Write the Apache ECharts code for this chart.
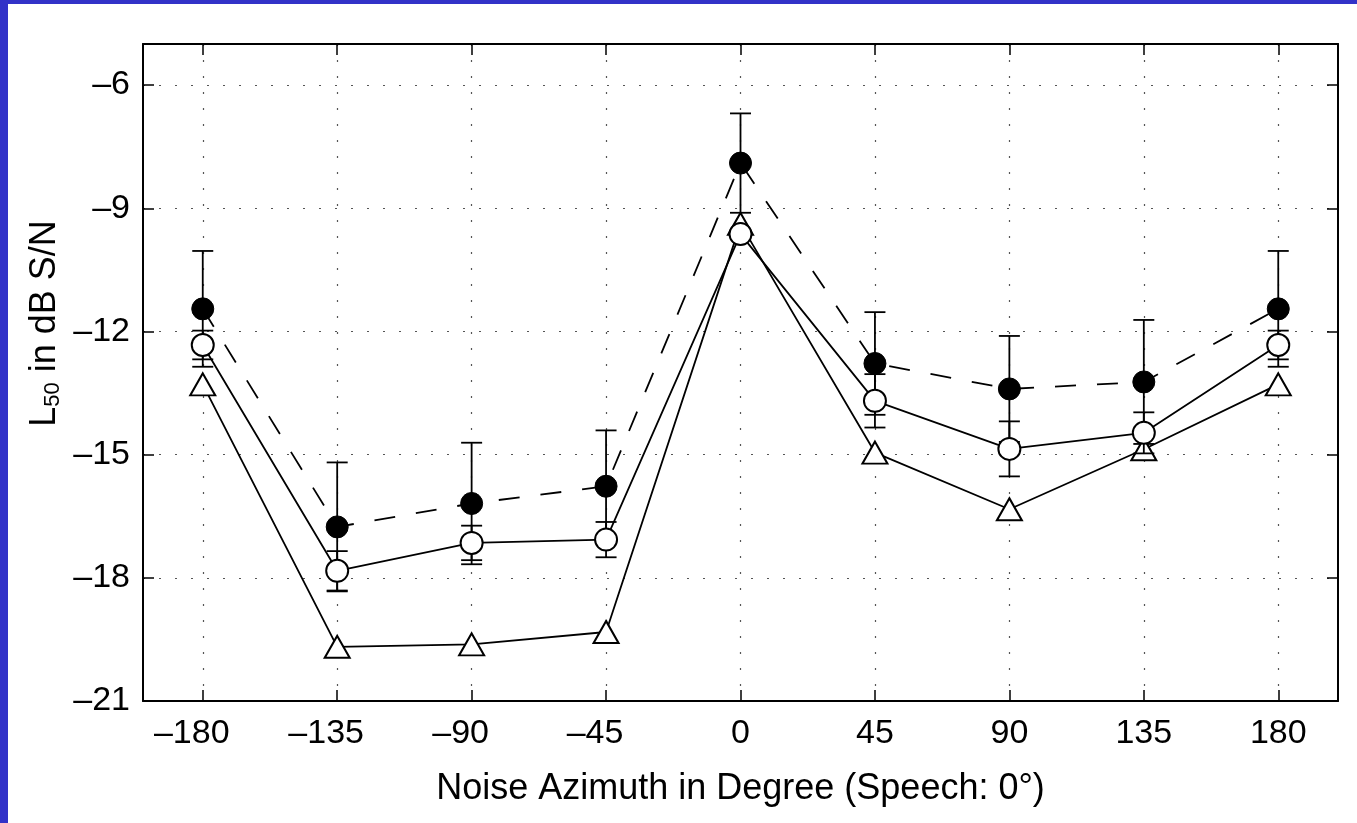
<!DOCTYPE html>
<html>
<head>
<meta charset="utf-8">
<script src="https://cdn.jsdelivr.net/npm/echarts@6/dist/echarts.min.js"></script>
<style>
html,body{margin:0;padding:0;background:#fff;}
#chart{width:1357px;height:823px;}
</style>
</head>
<body>
<div id="chart"></div>
<script>
// ---- data ----
const azimuth = [-180, -135, -90, -45, 0, 45, 90, 135, 180];
const filledMean = [-11.45, -16.76, -16.19, -15.77, -7.90, -12.78, -13.40, -13.23, -11.45];
const filledErr  = [1.41, 1.57, 1.48, 1.36, 1.21, 1.25, 1.29, 1.51, 1.41];
const openMean   = [-12.33, -17.83, -17.15, -17.07, -9.63, -13.69, -14.86, -14.47, -12.33];
const openErr    = [0.35, 0.48, 0.42, 0.43, 0, 0.65, 0.67, 0.50, 0.35];
const triMean    = [-13.29, -19.68, -19.62, -19.32, -9.38, -14.95, -16.33, -14.87, -13.29];
const xTicks = [-180, -135, -90, -45, 0, 45, 90, 135, 180];
const yTicks = [-21, -18, -15, -12, -9, -6];
const xLabel = 'Noise Azimuth in Degree (Speech: 0\u00B0)';
const yLabelRich = '{m|L}{s|50}{m| in dB S/N}';

const FONT = '"Liberation Sans", Arial, Helvetica, sans-serif';
const fmtY = v => (v < 0 ? '\u2013' + Math.abs(v) : String(v));
const fmtX = v => (v < 0 ? '{n|\u2013' + Math.abs(v) + '}' : '{p|' + v + '}');
const tickFont = {fontSize: 34, color: '#000', fontFamily: FONT};
const gridLine = {show: true, lineStyle: {color: '#555', width: 1.2, type: [2, 14]}};
const black = {color: '#000', width: 2};

function pairs(ys) { return azimuth.map((a, i) => [a, ys[i]]); }
function errData(m, e) { return azimuth.map((a, i) => [a, m[i], e[i]]); }

function errRender(params, api) {
  const x = api.value(0), m = api.value(1), e = api.value(2);
  if (!(e > 0)) return null;
  const t = api.coord([x, m + e]);
  const b = api.coord([x, m - e]);
  const hw = 10.5;
  const st = {stroke: '#000', lineWidth: 1.8};
  return {
    type: 'group',
    children: [
      {type: 'line', shape: {x1: t[0], y1: t[1], x2: b[0], y2: b[1]}, style: st},
      {type: 'line', shape: {x1: t[0] - hw, y1: t[1], x2: t[0] + hw, y2: t[1]}, style: st},
      {type: 'line', shape: {x1: b[0] - hw, y1: b[1], x2: b[0] + hw, y2: b[1]}, style: st}
    ]
  };
}

const chart = echarts.init(document.getElementById('chart'), null, {renderer: 'canvas'});
chart.setOption({
  backgroundColor: '#fff',
  animation: false,
  grid: {left: 143, right: 19, top: 44, bottom: 122, containLabel: false, outerBoundsMode: 'none'},
  xAxis: [{
    type: 'value', min: -200, max: 200, position: 'bottom',
    name: xLabel, nameLocation: 'middle', nameGap: 70,
    nameTextStyle: {fontSize: 36, color: '#000', fontFamily: FONT},
    axisLine: {show: true, onZero: false, lineStyle: black},
    axisTick: {show: true, inside: true, length: 11, customValues: xTicks, lineStyle: {color: '#000', width: 1.5}},
    axisLabel: {
      show: true, customValues: xTicks, formatter: fmtX, margin: 16, ...tickFont,
      rich: {
        n: {...tickFont, padding: [0, 22, 0, 0]},
        p: {...tickFont}
      }
    },
    splitLine: gridLine
  }, {
    type: 'value', min: -200, max: 200, position: 'top',
    axisLine: {show: true, onZero: false, lineStyle: black},
    axisTick: {show: true, inside: true, length: 11, customValues: xTicks, lineStyle: {color: '#000', width: 1.5}},
    axisLabel: {show: false},
    splitLine: {show: false}
  }],
  yAxis: [{
    type: 'value', min: -21, max: -5, interval: 3, position: 'left',
    axisLine: {show: true, onZero: false, lineStyle: black},
    axisTick: {show: true, inside: true, length: 11, customValues: yTicks, lineStyle: {color: '#000', width: 1.5}},
    axisLabel: {show: true, customValues: yTicks, formatter: fmtY, margin: 13, ...tickFont},
    splitLine: gridLine
  }, {
    type: 'value', min: -21, max: -5, interval: 3, position: 'right',
    axisLine: {show: true, onZero: false, lineStyle: black},
    axisTick: {show: true, inside: true, length: 11, customValues: yTicks, lineStyle: {color: '#000', width: 1.5}},
    axisLabel: {show: false},
    splitLine: {show: false}
  }],
  graphic: [
    {type: 'rect', left: 0, top: 0, shape: {width: 8, height: 823}, style: {fill: '#3232c8'}, z: 100},
    {type: 'rect', left: 0, top: 0, shape: {width: 1357, height: 4}, style: {fill: '#3232c8'}, z: 100},
    {
      type: 'text', x: 27.5, y: 323.5, rotation: Math.PI / 2, z: 100,
      style: {
        text: yLabelRich, align: 'center', verticalAlign: 'top', fill: '#000', font: '36px ' + FONT,
        rich: {
          m: {fontSize: 36, lineHeight: 36, verticalAlign: 'top', fontFamily: FONT, fill: '#000'},
          s: {fontSize: 22, lineHeight: 22, padding: [28, 0, 0, 0], verticalAlign: 'bottom', fontFamily: FONT, fill: '#000'}
        }
      }
    }
  ],
  series: [
    {type: 'custom', name: 'filled err', z: 2, renderItem: errRender, data: errData(filledMean, filledErr), silent: true},
    {
      type: 'line', name: 'filled', z: 3, data: pairs(filledMean),
      lineStyle: {color: '#000', width: 1.8, type: [21, 21]},
      symbol: 'circle', symbolSize: 22, itemStyle: {color: '#000', borderColor: '#000', borderWidth: 1}
    },
    {
      type: 'line', name: 'triangle', z: 4, data: pairs(triMean),
      lineStyle: {color: '#000', width: 1.8},
      symbol: 'triangle', symbolSize: [25, 22], itemStyle: {color: '#fff', borderColor: '#000', borderWidth: 2}
    },
    {type: 'custom', name: 'open err', z: 5, renderItem: errRender, data: errData(openMean, openErr), silent: true},
    {
      type: 'line', name: 'open', z: 6, data: pairs(openMean),
      lineStyle: {color: '#000', width: 1.8},
      symbol: 'circle', symbolSize: 22, itemStyle: {color: '#fff', borderColor: '#000', borderWidth: 2}
    }
  ]
});
</script>
</body>
</html>
